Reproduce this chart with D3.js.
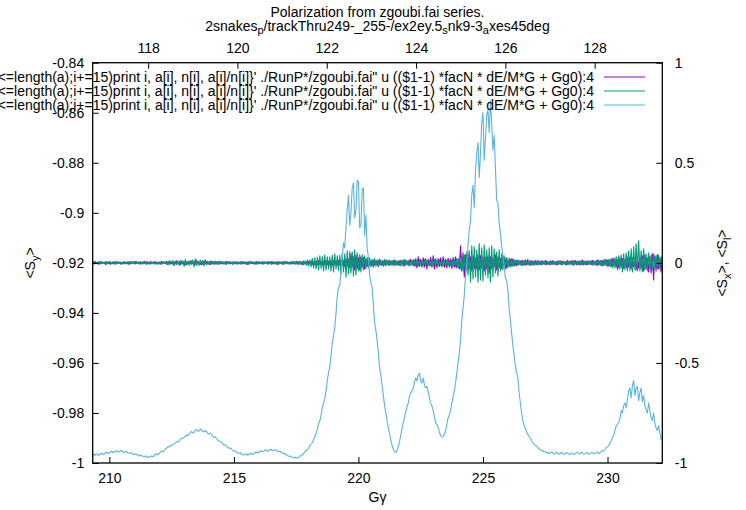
<!DOCTYPE html>
<html>
<head>
<meta charset="utf-8">
<script src="https://cdn.jsdelivr.net/npm/d3@7"></script>
<style>
  html, body { margin: 0; padding: 0; background: #fff; }
  svg { display: block; font-family: "Liberation Sans", Arial, Helvetica, sans-serif; }
  text { fill: #000; }
</style>
</head>
<body>
<svg id="chart" width="746" height="510"></svg>
<script>
// Turn-averaged spin components versus G*gamma (one sample every 0.05 in G*gamma)
const gammaStart = 209.3;
const gammaStep = 0.05;
const G = 1.792847; // proton anomaly, top axis shows gamma = Ggamma / G

// <S_y> (left axis)
const sy = [
  -0.9966,-0.9962,-0.9970,-0.9965,-0.9964,-0.9969,-0.9968,-0.9963,-0.9961,-0.9966,-0.9963,-0.9958,-0.9957,-0.9962,-0.9960,-0.9955,-0.9953,-0.9958,-0.9956,-0.9952,
  -0.9951,-0.9956,-0.9955,-0.9950,-0.9952,-0.9957,-0.9957,-0.9953,-0.9955,-0.9960,-0.9961,-0.9958,-0.9960,-0.9965,-0.9967,-0.9963,-0.9965,-0.9970,-0.9972,-0.9968,
  -0.9970,-0.9975,-0.9976,-0.9972,-0.9973,-0.9978,-0.9977,-0.9973,-0.9972,-0.9975,-0.9971,-0.9966,-0.9963,-0.9967,-0.9962,-0.9956,-0.9953,-0.9955,-0.9950,-0.9944,
  -0.9940,-0.9935,-0.9936,-0.9931,-0.9929,-0.9925,-0.9924,-0.9918,-0.9915,-0.9916,-0.9912,-0.9905,-0.9902,-0.9899,-0.9898,-0.9891,-0.9889,-0.9890,-0.9886,-0.9878,
  -0.9874,-0.9880,-0.9878,-0.9869,-0.9866,-0.9873,-0.9872,-0.9864,-0.9867,-0.9874,-0.9876,-0.9870,-0.9874,-0.9882,-0.9884,-0.9880,-0.9886,-0.9893,-0.9897,-0.9895,
  -0.9902,-0.9908,-0.9912,-0.9913,-0.9917,-0.9924,-0.9928,-0.9927,-0.9931,-0.9938,-0.9941,-0.9940,-0.9944,-0.9950,-0.9952,-0.9951,-0.9955,-0.9960,-0.9961,-0.9959,
  -0.9963,-0.9967,-0.9968,-0.9964,-0.9964,-0.9969,-0.9967,-0.9962,-0.9962,-0.9966,-0.9963,-0.9958,-0.9956,-0.9960,-0.9957,-0.9952,-0.9951,-0.9955,-0.9953,-0.9948,
  -0.9948,-0.9953,-0.9951,-0.9946,-0.9946,-0.9951,-0.9950,-0.9947,-0.9949,-0.9953,-0.9955,-0.9952,-0.9956,-0.9961,-0.9963,-0.9962,-0.9966,-0.9971,-0.9973,-0.9972,
  -0.9975,-0.9979,-0.9980,-0.9976,-0.9979,-0.9981,-0.9978,-0.9972,-0.9970,-0.9967,-0.9962,-0.9955,-0.9951,-0.9947,-0.9940,-0.9930,-0.9924,-0.9918,-0.9906,-0.9896,
  -0.9880,-0.9866,-0.9842,-0.9832,-0.9810,-0.9778,-0.9760,-0.9742,-0.9712,-0.9668,-0.9640,-0.9615,-0.9572,-0.9520,-0.9490,-0.9458,-0.9400,-0.9330,-0.9300,-0.9290,
  -0.9230,-0.9180,-0.9120,-0.9140,-0.9060,-0.8990,-0.8930,-0.9050,-0.9000,-0.8900,-0.8880,-0.9020,-0.8990,-0.8870,-0.8875,-0.9060,-0.9050,-0.8910,-0.8900,-0.9090,
  -0.9010,-0.9140,-0.9180,-0.9250,-0.9280,-0.9300,-0.9370,-0.9440,-0.9470,-0.9510,-0.9560,-0.9620,-0.9650,-0.9690,-0.9730,-0.9770,-0.9800,-0.9830,-0.9860,-0.9880,
  -0.9910,-0.9930,-0.9945,-0.9954,-0.9958,-0.9950,-0.9935,-0.9915,-0.9890,-0.9862,-0.9840,-0.9815,-0.9795,-0.9775,-0.9760,-0.9732,-0.9720,-0.9712,-0.9700,-0.9678,
  -0.9660,-0.9672,-0.9650,-0.9640,-0.9672,-0.9680,-0.9660,-0.9690,-0.9700,-0.9694,-0.9715,-0.9740,-0.9760,-0.9772,-0.9790,-0.9815,-0.9840,-0.9846,-0.9858,-0.9876,
  -0.9890,-0.9896,-0.9895,-0.9885,-0.9870,-0.9846,-0.9820,-0.9808,-0.9790,-0.9760,-0.9735,-0.9712,-0.9680,-0.9640,-0.9600,-0.9560,-0.9510,-0.9430,-0.9380,-0.9330,
  -0.9250,-0.9200,-0.9130,-0.9070,-0.9030,-0.8930,-0.8890,-0.8980,-0.8830,-0.8760,-0.8720,-0.8860,-0.8760,-0.8640,-0.8600,-0.8790,-0.8700,-0.8610,-0.8590,-0.8680,
  -0.8550,-0.8640,-0.8750,-0.8690,-0.8820,-0.8950,-0.8960,-0.9040,-0.9080,-0.9130,-0.9180,-0.9210,-0.9260,-0.9270,-0.9310,-0.9380,-0.9430,-0.9480,-0.9530,-0.9570,
  -0.9610,-0.9640,-0.9660,-0.9715,-0.9760,-0.9800,-0.9830,-0.9850,-0.9862,-0.9876,-0.9885,-0.9894,-0.9900,-0.9911,-0.9918,-0.9925,-0.9930,-0.9932,-0.9938,-0.9943,
  -0.9946,-0.9951,-0.9950,-0.9955,-0.9954,-0.9960,-0.9957,-0.9962,-0.9961,-0.9956,-0.9958,-0.9964,-0.9962,-0.9957,-0.9960,-0.9965,-0.9963,-0.9958,-0.9959,-0.9965,
  -0.9964,-0.9959,-0.9960,-0.9966,-0.9965,-0.9960,-0.9961,-0.9967,-0.9963,-0.9957,-0.9958,-0.9964,-0.9962,-0.9958,-0.9959,-0.9965,-0.9964,-0.9958,-0.9960,-0.9965,
  -0.9963,-0.9957,-0.9958,-0.9964,-0.9962,-0.9956,-0.9957,-0.9962,-0.9959,-0.9953,-0.9950,-0.9952,-0.9946,-0.9938,-0.9936,-0.9930,-0.9920,-0.9912,-0.9898,-0.9890,
  -0.9870,-0.9852,-0.9845,-0.9838,-0.9822,-0.9790,-0.9800,-0.9770,-0.9760,-0.9780,-0.9745,-0.9710,-0.9700,-0.9740,-0.9690,-0.9670,-0.9730,-0.9700,-0.9695,-0.9750,
  -0.9720,-0.9700,-0.9755,-0.9730,-0.9770,-0.9790,-0.9800,-0.9760,-0.9790,-0.9820,-0.9830,-0.9800,-0.9840,-0.9860,-0.9870,-0.9850,-0.9880,-0.9905,-0.9900
];

// <S_x> (right axis)
const sx = [
  0.004,-0.005,0.006,-0.003,0.002,-0.007,0.005,-0.004,0.006,-0.002,0.003,-0.008,0.005,-0.004,0.006,-0.007,0.003,-0.005,0.004,-0.006,
  0.007,-0.003,0.004,-0.006,0.002,-0.005,0.006,-0.004,0.004,-0.007,0.005,-0.003,0.006,-0.002,0.007,-0.005,0.006,-0.004,0.003,-0.005,
  0.003,-0.006,0.008,-0.004,0.006,-0.005,0.004,-0.006,0.005,-0.003,0.006,-0.005,0.002,-0.007,0.004,-0.006,0.008,-0.004,0.005,-0.003,
  0.006,-0.008,0.009,-0.004,0.004,-0.007,0.006,-0.005,0.010,-0.006,0.005,-0.009,0.007,-0.004,0.006,-0.011,0.005,-0.006,0.008,-0.005,
  0.009,-0.005,0.006,-0.008,0.012,-0.006,0.005,-0.008,0.006,-0.009,0.010,-0.005,0.007,-0.006,0.005,-0.008,0.008,-0.004,0.007,-0.006,
  0.005,-0.007,0.008,-0.004,0.006,-0.005,0.004,-0.006,0.007,-0.003,0.006,-0.005,0.003,-0.007,0.005,-0.004,0.005,-0.006,0.004,-0.005,
  0.006,-0.004,0.005,-0.006,0.004,-0.008,0.006,-0.003,0.005,-0.004,0.003,-0.007,0.007,-0.005,0.006,-0.004,0.004,-0.006,0.005,-0.003,
  0.003,-0.006,0.007,-0.004,0.006,-0.005,0.004,-0.006,0.005,-0.008,0.006,-0.004,0.004,-0.007,0.006,-0.005,0.007,-0.004,0.003,-0.006,
  0.005,-0.004,0.006,-0.007,0.008,-0.005,0.005,-0.006,0.004,-0.008,0.009,-0.005,0.006,-0.007,0.007,-0.006,0.010,-0.008,0.006,-0.009,
  0.008,-0.010,0.011,-0.007,0.007,-0.012,0.009,-0.008,0.012,-0.009,0.008,-0.011,0.010,-0.012,0.013,-0.009,0.009,-0.013,0.012,-0.010,
  0.015,-0.012,0.010,-0.018,0.020,-0.015,0.018,-0.025,0.045,-0.020,0.030,-0.035,0.038,-0.028,0.025,-0.035,0.030,-0.022,0.028,-0.030,
  0.020,-0.018,0.015,-0.012,0.012,-0.016,0.014,-0.010,0.010,-0.013,0.012,-0.009,0.011,-0.012,0.009,-0.010,0.013,-0.008,0.010,-0.011,
  0.009,-0.010,0.012,-0.008,0.010,-0.011,0.008,-0.012,0.012,-0.009,0.011,-0.013,0.014,-0.009,0.010,-0.012,0.018,-0.011,0.015,-0.016,
  0.020,-0.025,0.030,-0.018,0.018,-0.022,0.025,-0.020,0.022,-0.030,0.018,-0.015,0.028,-0.022,0.035,-0.030,0.020,-0.025,0.022,-0.018,
  0.025,-0.020,0.030,-0.022,0.018,-0.025,0.024,-0.020,0.020,-0.028,0.028,-0.022,0.030,-0.025,0.020,-0.030,0.085,-0.040,0.050,-0.070,
  0.040,-0.035,0.045,-0.030,0.030,-0.040,0.035,-0.028,0.025,-0.030,0.040,-0.035,0.035,-0.025,0.030,-0.040,0.028,-0.030,0.035,-0.050,
  0.030,-0.028,0.025,-0.020,0.040,-0.035,0.030,-0.025,0.022,-0.030,0.035,-0.020,0.020,-0.025,0.015,-0.018,0.018,-0.015,0.020,-0.016,
  0.012,-0.014,0.015,-0.010,0.010,-0.012,0.012,-0.013,0.014,-0.010,0.018,-0.012,0.010,-0.011,0.009,-0.012,0.012,-0.008,0.011,-0.010,
  0.008,-0.009,0.010,-0.006,0.012,-0.008,0.007,-0.010,0.009,-0.007,0.011,-0.008,0.006,-0.010,0.009,-0.007,0.010,-0.009,0.008,-0.006,
  0.007,-0.010,0.012,-0.008,0.009,-0.006,0.010,-0.012,0.013,-0.009,0.008,-0.010,0.010,-0.008,0.014,-0.011,0.008,-0.010,0.009,-0.007,
  0.010,-0.009,0.012,-0.010,0.008,-0.012,0.015,-0.010,0.012,-0.014,0.010,-0.012,0.018,-0.012,0.014,-0.016,0.016,-0.018,0.020,-0.015,
  0.020,-0.022,0.018,-0.025,0.025,-0.020,0.022,-0.028,0.018,-0.025,0.028,-0.022,0.030,-0.030,0.025,-0.020,0.022,-0.035,0.030,-0.028,
  0.028,-0.030,0.035,-0.040,0.040,-0.030,0.025,-0.045,0.030,-0.050,0.045,-0.086,0.035,-0.040,0.040,-0.030,0.025,-0.045,0.030
];

// <S_l> (right axis)
const sl = [
  -0.005,0.004,-0.006,0.007,-0.003,0.005,-0.007,0.006,-0.006,0.003,-0.004,0.006,-0.007,0.005,-0.005,0.004,-0.004,0.007,-0.006,0.006,
  -0.006,0.005,-0.003,0.004,-0.007,0.006,-0.005,0.003,-0.004,0.007,-0.008,0.006,-0.005,0.004,-0.006,0.006,-0.003,0.005,-0.007,0.007,
  -0.005,0.006,-0.004,0.003,-0.008,0.005,-0.006,0.006,-0.003,0.004,-0.007,0.007,-0.006,0.005,-0.005,0.004,-0.007,0.006,-0.004,0.004,
  -0.008,0.007,-0.010,0.010,-0.006,0.012,-0.015,0.009,-0.009,0.010,-0.012,0.013,-0.007,0.011,-0.018,0.018,-0.010,0.009,-0.013,0.012,
  -0.008,0.015,-0.020,0.020,-0.012,0.010,-0.014,0.014,-0.009,0.012,-0.016,0.016,-0.011,0.009,-0.010,0.010,-0.007,0.008,-0.009,0.009,
  -0.006,0.007,-0.008,0.008,-0.005,0.006,-0.007,0.007,-0.008,0.005,-0.006,0.006,-0.004,0.005,-0.007,0.007,-0.006,0.004,-0.005,0.005,
  -0.007,0.006,-0.005,0.005,-0.006,0.004,-0.008,0.008,-0.004,0.005,-0.006,0.006,-0.007,0.004,-0.005,0.005,-0.005,0.006,-0.007,0.007,
  -0.004,0.005,-0.006,0.006,-0.008,0.007,-0.005,0.005,-0.006,0.004,-0.007,0.007,-0.005,0.006,-0.008,0.008,-0.004,0.005,-0.006,0.006,
  -0.007,0.006,-0.005,0.005,-0.006,0.007,-0.009,0.009,-0.008,0.008,-0.010,0.010,-0.012,0.014,-0.015,0.015,-0.020,0.022,-0.025,0.025,
  -0.030,0.028,-0.035,0.035,-0.028,0.032,-0.040,0.040,-0.035,0.030,-0.030,0.030,-0.040,0.038,-0.045,0.045,-0.030,0.035,-0.038,0.038,
  -0.055,0.050,-0.045,0.045,-0.070,0.060,-0.055,0.055,-0.050,0.055,-0.065,0.065,-0.060,0.050,-0.040,0.040,-0.045,0.040,-0.035,0.035,
  -0.030,0.028,-0.025,0.025,-0.020,0.018,-0.022,0.022,-0.018,0.016,-0.020,0.020,-0.015,0.014,-0.018,0.018,-0.016,0.015,-0.014,0.014,
  -0.012,0.013,-0.015,0.015,-0.014,0.012,-0.012,0.012,-0.016,0.015,-0.018,0.018,-0.013,0.012,-0.015,0.015,-0.012,0.013,-0.014,0.014,
  -0.015,0.016,-0.018,0.018,-0.012,0.013,-0.016,0.016,-0.014,0.012,-0.012,0.012,-0.015,0.014,-0.017,0.017,-0.013,0.012,-0.015,0.015,
  -0.012,0.013,-0.014,0.014,-0.016,0.015,-0.013,0.013,-0.015,0.014,-0.018,0.018,-0.020,0.022,-0.025,0.025,-0.030,0.035,-0.040,0.040,
  -0.050,0.055,-0.060,0.060,-0.095,0.085,-0.080,0.080,-0.070,0.065,-0.097,0.097,-0.085,0.075,-0.090,0.090,-0.060,0.065,-0.075,0.075,
  -0.095,0.085,-0.070,0.070,-0.050,0.055,-0.065,0.065,-0.040,0.045,-0.035,0.035,-0.030,0.028,-0.025,0.025,-0.020,0.022,-0.018,0.018,
  -0.014,0.013,-0.012,0.012,-0.010,0.011,-0.013,0.013,-0.011,0.010,-0.009,0.009,-0.012,0.011,-0.010,0.010,-0.008,0.009,-0.011,0.011,
  -0.009,0.010,-0.008,0.008,-0.011,0.010,-0.007,0.007,-0.010,0.009,-0.009,0.009,-0.008,0.007,-0.011,0.011,-0.007,0.008,-0.009,0.009,
  -0.010,0.009,-0.008,0.008,-0.009,0.010,-0.011,0.011,-0.007,0.008,-0.010,0.010,-0.012,0.011,-0.009,0.009,-0.008,0.009,-0.010,0.010,
  -0.009,0.010,-0.011,0.011,-0.010,0.011,-0.012,0.012,-0.013,0.014,-0.015,0.015,-0.014,0.016,-0.018,0.018,-0.020,0.022,-0.025,0.025,
  -0.025,0.030,-0.035,0.035,-0.030,0.040,-0.045,0.045,-0.035,0.050,-0.040,0.060,-0.040,0.070,-0.045,0.080,-0.035,0.095,-0.040,0.110,
  -0.040,0.060,-0.045,0.070,-0.035,0.045,-0.040,0.050,-0.030,0.040,-0.035,0.045,-0.025,0.035,-0.030,0.040,-0.030,0.030,-0.035
];

const xTicks = [210, 215, 220, 225, 230];
const x2Ticks = [118, 120, 122, 124, 126, 128];
const yTicks = [-0.84, -0.86, -0.88, -0.9, -0.92, -0.94, -0.96, -0.98, -1];
const y2Ticks = [1, 0.5, 0, -0.5, -1];

const legendLabels = [
  "\"< awk '{a[$1]+=$10; n[$1]++} END {for(i=1;i<=length(a);i+=15)print i, a[i], n[i], a[i]/n[i]}' ./RunP*/zgoubi.fai\" u (($1-1) *facN * dE/M*G + Gg0):4",
  "\"< awk '{a[$1]+=$11; n[$1]++} END {for(i=1;i<=length(a);i+=15)print i, a[i], n[i], a[i]/n[i]}' ./RunP*/zgoubi.fai\" u (($1-1) *facN * dE/M*G + Gg0):4",
  "\"< awk '{a[$1]+=$12; n[$1]++} END {for(i=1;i<=length(a);i+=15)print i, a[i], n[i], a[i]/n[i]}' ./RunP*/zgoubi.fai\" u (($1-1) *facN * dE/M*G + Gg0):4"
];
const colors = ["#9400d3", "#009e73", "#56b4e9"];

const svg = d3.select("#chart");
const pL = 92.7, pR = 662.3, pT = 62.7, pB = 463;
const fs = 14;
const subFs = 11;

const xMin = 209.33, xMax = 232.2;
const x = d3.scaleLinear().domain([xMin, xMax]).range([pL, pR]);
const x2 = d3.scaleLinear().domain([xMin / G, xMax / G]).range([pL, pR]);
const y = d3.scaleLinear().domain([-1, -0.84]).range([pB, pT]);
const y2 = d3.scaleLinear().domain([-1, 1]).range([pB, pT]);

const fmt = v => String(+v.toFixed(2));
const gam = i => gammaStart + i * gammaStep;

svg.append("defs").append("clipPath").attr("id", "plotclip")
  .append("rect").attr("x", pL).attr("y", pT)
  .attr("width", pR - pL).attr("height", pB - pT);

// Data lines: S_x and S_l on the right axis, S_y on the left axis
const series = [
  { vals: sx, ys: y2, color: colors[0] },
  { vals: sl, ys: y2, color: colors[1] },
  { vals: sy, ys: y, color: colors[2] }
];
const gLines = svg.append("g").attr("clip-path", "url(#plotclip)");
series.forEach(s => {
  const line = d3.line().x((d, i) => x(gam(i))).y(d => s.ys(d));
  gLines.append("path").datum(s.vals)
    .attr("d", line).attr("fill", "none")
    .attr("stroke", s.color).attr("stroke-width", 1.1)
    .attr("stroke-linejoin", "round");
});

// Axes with inward ticks
function styleAxis(g) {
  g.select(".domain").remove();
  g.selectAll(".tick line").attr("stroke", "#000").attr("stroke-width", 1);
  g.selectAll(".tick text").attr("font-size", fs).attr("font-family", null).attr("fill", "#000");
}
svg.append("g").attr("transform", `translate(0,${pB})`)
  .call(d3.axisBottom(x).tickValues(xTicks).tickFormat(fmt).tickSizeInner(-6).tickSizeOuter(0).tickPadding(10))
  .call(styleAxis);
svg.append("g").attr("transform", `translate(0,${pT})`)
  .call(d3.axisTop(x2).tickValues(x2Ticks).tickFormat(fmt).tickSizeInner(-6).tickSizeOuter(0).tickPadding(9.5))
  .call(styleAxis);
svg.append("g").attr("transform", `translate(${pL},0)`)
  .call(d3.axisLeft(y).tickValues(yTicks).tickFormat(fmt).tickSizeInner(-6).tickSizeOuter(0).tickPadding(8.5))
  .call(styleAxis);
svg.append("g").attr("transform", `translate(${pR},0)`)
  .call(d3.axisRight(y2).tickValues(y2Ticks).tickFormat(fmt).tickSizeInner(-6).tickSizeOuter(0).tickPadding(12.5))
  .call(styleAxis);

// Plot border
svg.append("rect").attr("x", pL).attr("y", pT)
  .attr("width", pR - pL).attr("height", pB - pT)
  .attr("fill", "none").attr("stroke", "#000").attr("stroke-width", 1.3);

// Rich text helper: parts are [string, isSubscript]
function richText(t, parts) {
  parts.reduce((prevSub, [s, sub]) => {
    const sp = t.append("tspan").text(s);
    if (sub) sp.attr("font-size", subFs).attr("dy", 3.5);
    else if (prevSub) sp.attr("dy", -3.5);
    return sub;
  }, false);
}

// Title
const cx = (pL + pR) / 2;
svg.append("text").attr("x", cx).attr("y", 16.5).attr("text-anchor", "middle")
  .attr("font-size", fs).text("Polarization from zgoubi.fai series.");
const t2 = svg.append("text").attr("x", cx).attr("y", 30.5).attr("text-anchor", "middle")
  .attr("font-size", fs);
richText(t2, [["2snakes", false], ["p", true], ["/trackThru249-_255-/ex2ey.5", false], ["s", true],
  ["nk9-3", false], ["a", true], ["xes45deg", false]]);

// Axis titles
svg.append("text").attr("x", cx).attr("y", 502).attr("text-anchor", "middle")
  .attr("font-size", fs).text("Gγ");

const yl = svg.append("text").attr("transform", "translate(35,263) rotate(-90)")
  .attr("text-anchor", "middle").attr("font-size", fs);
richText(yl, [["<S", false], ["y", true], [">", false]]);

const yr = svg.append("text").attr("transform", "translate(727,263) rotate(-90)")
  .attr("text-anchor", "middle").attr("font-size", fs);
richText(yr, [["<S", false], ["x", true], [">,  <S", false], ["l", true], [">", false]]);

// Key
const keyY = [77, 91, 105];
legendLabels.forEach((lab, i) => {
  svg.append("text").attr("x", 594).attr("y", keyY[i] + 5)
    .attr("text-anchor", "end").attr("font-size", fs).text(lab);
  svg.append("line").attr("x1", 604).attr("x2", 645)
    .attr("y1", keyY[i]).attr("y2", keyY[i])
    .attr("stroke", colors[i]).attr("stroke-width", 1.1);
});
</script>
</body>
</html>
